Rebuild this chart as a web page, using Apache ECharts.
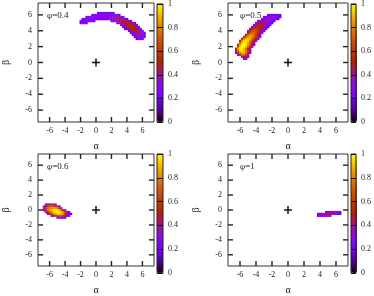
<!DOCTYPE html>
<html>
<head>
<meta charset="utf-8">
<script src="https://cdn.jsdelivr.net/npm/echarts@6/dist/echarts.min.js"></script>
<style>
  html, body { margin: 0; padding: 0; background: #fff; }
  #main { width: 374px; height: 296px; }
</style>
</head>
<body>
<div id="main"></div>
<script>
// tick labels on the alpha / beta axes
const axisTicks = [-6, -4, -2, 0, 2, 4, 6]
const axisMin = -7.5
const axisMax = 7.5
const phiLabels = ['φ=0.4', 'φ=0.5', 'φ=0.6', 'φ=1']
const origin = [[0, 0]]
// grid cell size (alpha and beta units)
const cell = 0.25

// phi = 0.4 : rows of beta, first alpha of each row, values along alpha
const p1Beta = [6.25, 6.0, 5.75, 5.5, 5.25, 5.0, 4.75, 4.5, 4.25, 4.0, 3.75, 3.5, 3.25, 3.0]
const p1Start = [0.25, -0.5, -1.25, -1.75, -2.0, -2.0, 3.25, 3.5, 3.75, 4.25, 4.5, 4.75, 5.0, 5.25]
const p1Vals = [
  [0.2, 0.22, 0.24, 0.25, 0.25, 0.25, 0.24, 0.22, 0.2],
  [0.2, 0.22, 0.25, 0.27, 0.28, 0.29, 0.3, 0.3, 0.3, 0.3, 0.3, 0.28, 0.26, 0.23, 0.2],
  [0.2, 0.23, 0.26, 0.28, 0.29, 0.3, 0.3, 0.31, 0.31, 0.32, 0.32, 0.33, 0.33, 0.34, 0.35, 0.37, 0.37, 0.35, 0.3, 0.22],
  [0.2, 0.23, 0.25, 0.26, 0.27, 0.27, 0.26, 0.24, 0.23, 0.22, 0.22, 0.22, 0.23, 0.25, 0.28, 0.31, 0.35, 0.39, 0.43, 0.45, 0.44, 0.38, 0.3, 0.22],
  [0.2, 0.22, 0.25, 0.26, 0.24, 0.23, 0.21, 0.2, 0, 0, 0, 0, 0, 0, 0, 0, 0.22, 0.27, 0.32, 0.38, 0.44, 0.48, 0.5, 0.47, 0.42, 0.33, 0.22],
  [0.2, 0.22, 0.22, 0.2, 0, 0, 0, 0, 0, 0, 0, 0, 0, 0, 0, 0, 0, 0, 0, 0.22, 0.3, 0.38, 0.45, 0.5, 0.52, 0.5, 0.45, 0.35, 0.22],
  [0.22, 0.32, 0.42, 0.5, 0.54, 0.55, 0.5, 0.38, 0.22],
  [0.2, 0.3, 0.42, 0.5, 0.55, 0.55, 0.5, 0.38, 0.22],
  [0.2, 0.28, 0.4, 0.5, 0.54, 0.53, 0.47, 0.35, 0.22],
  [0.22, 0.34, 0.45, 0.5, 0.5, 0.44, 0.32, 0.2],
  [0.2, 0.3, 0.4, 0.45, 0.44, 0.38, 0.28, 0.2],
  [0.2, 0.28, 0.35, 0.38, 0.36, 0.3, 0.21],
  [0.2, 0.26, 0.3, 0.31, 0.27, 0.2],
  [0.2, 0.24, 0.25, 0.21]
]

// phi = 0.5
const p2Beta = [6.0, 5.75, 5.5, 5.25, 5.0, 4.75, 4.5, 4.25, 4.0, 3.75, 3.5, 3.25, 3.0, 2.75, 2.5, 2.25, 2.0, 1.75, 1.5, 1.25, 1.0, 0.75, 0.5]
const p2Start = [-2.5, -3.0, -3.25, -3.75, -4.0, -4.25, -4.5, -4.75, -5.0, -5.0, -5.25, -5.5, -5.75, -6.0, -6.0, -6.25, -6.25, -6.5, -6.5, -6.5, -6.25, -5.75, -5.5]
const p2Vals = [
  [0.2, 0.22, 0.24, 0.25, 0.24, 0.22, 0.2],
  [0.2, 0.25, 0.29, 0.31, 0.31, 0.3, 0.28, 0.25, 0.2],
  [0.22, 0.3, 0.35, 0.36, 0.35, 0.32, 0.28, 0.24, 0.2],
  [0.22, 0.32, 0.38, 0.4, 0.39, 0.36, 0.31, 0.26, 0.2],
  [0.24, 0.36, 0.43, 0.45, 0.43, 0.39, 0.33, 0.27, 0.2],
  [0.26, 0.4, 0.48, 0.5, 0.48, 0.43, 0.36, 0.28, 0.2],
  [0.29, 0.44, 0.53, 0.55, 0.53, 0.47, 0.39, 0.3, 0.2],
  [0.32, 0.49, 0.58, 0.6, 0.58, 0.52, 0.43, 0.32, 0.21],
  [0.36, 0.55, 0.65, 0.67, 0.64, 0.57, 0.47, 0.35, 0.23],
  [0.45, 0.65, 0.74, 0.73, 0.67, 0.57, 0.44, 0.27],
  [0.5, 0.72, 0.82, 0.81, 0.74, 0.63, 0.48, 0.3],
  [0.47, 0.72, 0.85, 0.87, 0.83, 0.74, 0.6, 0.45, 0.28],
  [0.5, 0.77, 0.9, 0.92, 0.88, 0.78, 0.63, 0.47, 0.3],
  [0.52, 0.8, 0.94, 0.96, 0.92, 0.82, 0.66, 0.5, 0.32],
  [0.65, 0.9, 0.98, 0.96, 0.88, 0.74, 0.55, 0.35],
  [0.55, 0.85, 0.99, 1.0, 0.96, 0.86, 0.7, 0.52, 0.34],
  [0.65, 0.92, 1.0, 0.99, 0.92, 0.78, 0.58, 0.36],
  [0.52, 0.85, 0.98, 0.98, 0.9, 0.76, 0.56, 0.34],
  [0.45, 0.8, 0.94, 0.96, 0.9, 0.78, 0.6, 0.36],
  [0.3, 0.62, 0.85, 0.92, 0.9, 0.78, 0.6, 0.35],
  [0.3, 0.6, 0.78, 0.8, 0.65, 0.38],
  [0.3, 0.5, 0.5, 0.3],
  [0.2, 0.22]
]

// phi = 0.6
const p3Beta = [0.75, 0.5, 0.25, 0.0, -0.25, -0.5, -0.75, -1.0]
const p3Start = [-6.5, -6.75, -6.75, -6.75, -6.5, -6.25, -5.75, -5.0]
const p3Vals = [
  [0.25, 0.35, 0.4, 0.4, 0.35, 0.25],
  [0.3, 0.5, 0.62, 0.68, 0.7, 0.65, 0.55, 0.45, 0.3],
  [0.35, 0.6, 0.75, 0.8, 0.82, 0.85, 0.85, 0.78, 0.6, 0.35],
  [0.32, 0.6, 0.78, 0.85, 0.9, 0.95, 0.97, 0.95, 0.88, 0.72, 0.5, 0.3],
  [0.3, 0.55, 0.72, 0.85, 0.92, 0.97, 1.0, 0.98, 0.92, 0.8, 0.62, 0.42, 0.25],
  [0.3, 0.5, 0.68, 0.82, 0.9, 0.95, 0.96, 0.92, 0.82, 0.65, 0.45, 0.3, 0.2],
  [0.25, 0.45, 0.6, 0.68, 0.72, 0.7, 0.62, 0.5, 0.35, 0.22],
  [0.2, 0.24, 0.26, 0.24, 0.2]
]

// phi = 1
const p4Beta = [-0.25, -0.5, -0.75]
const p4Start = [4.75, 3.75, 3.75]
const p4Vals = [
  [0.2, 0.22, 0.25, 0.27, 0.28, 0.27, 0.24, 0.2],
  [0.2, 0.28, 0.36, 0.44, 0.5, 0.52, 0.5, 0.45, 0.38, 0.32, 0.25, 0.2],
  [0.2, 0.25, 0.3, 0.33, 0.33, 0.3, 0.24]
]

// gnuplot default palette (rgbformulae 7,5,15)
const palette = ['#000000', '#39004f', '#510096', '#6301ce', '#7202f3', '#8004ff', '#8c07f3', '#970bce',
  '#a11096', '#ab174f', '#b42000', '#bd2a00', '#c63700', '#ce4600', '#d55700', '#dd6c00', '#e48300',
  '#eb9d00', '#f2ba00', '#f9db00', '#ffff00']

const font = 'Liberation Serif'
const ink = '#222'
const frame = '#333'

function buildCells(betas, starts, vals) {
  const out = []
  betas.forEach((b, i) => {
    vals[i].forEach((v, j) => {
      if (v > 0) out.push([starts[i] + j * cell, b, v])
    })
  })
  return out
}

const panels = [
  { cells: buildCells(p1Beta, p1Start, p1Vals), left: 35, top: 3, width: 119, cb: 157 },
  { cells: buildCells(p2Beta, p2Start, p2Vals), left: 228, top: 3, width: 120, cb: 351 },
  { cells: buildCells(p3Beta, p3Start, p3Vals), left: 35, top: 154, width: 119, cb: 157 },
  { cells: buildCells(p4Beta, p4Start, p4Vals), left: 228, top: 154, width: 120, cb: 351 }
]
const plotH = 119

const grid = []
const xAxis = []
const yAxis = []
const series = []
const visualMap = []
const graphic = []

panels.forEach((p, i) => {
  // main plot with a frame
  grid.push({ left: p.left, top: p.top, width: p.width, height: plotH, show: true, borderColor: frame, borderWidth: 1 })
  xAxis.push({
    gridIndex: i, type: 'value', min: axisMin, max: axisMax, position: 'bottom',
    name: 'α', nameLocation: 'middle', nameGap: 19,
    nameTextStyle: { fontFamily: font, fontSize: 10, color: ink },
    axisLine: { show: false, onZero: false }, splitLine: { show: false }, axisTick: { show: false },
    axisLabel: { customValues: axisTicks, margin: 5, fontFamily: font, fontSize: 8, color: ink }
  })
  yAxis.push({
    gridIndex: i, type: 'value', min: axisMin, max: axisMax, position: 'left',
    name: 'β', nameLocation: 'middle', nameGap: 27,
    nameTextStyle: { fontFamily: font, fontSize: 10, color: ink },
    axisLine: { show: false, onZero: false }, splitLine: { show: false }, axisTick: { show: false },
    axisLabel: { customValues: axisTicks, margin: 6, fontFamily: font, fontSize: 8, color: ink }
  })

  series.push({
    type: 'custom', xAxisIndex: i, yAxisIndex: i, clip: true,
    data: p.cells,
    renderItem(params, api) {
      const a = api.value(0)
      const b = api.value(1)
      const h = cell / 2
      const p1 = api.coord([a - h, b + h])
      const p2 = api.coord([a + h, b - h])
      return {
        type: 'rect',
        shape: { x: p1[0], y: p1[1], width: p2[0] - p1[0] + 0.4, height: p2[1] - p1[1] + 0.4 },
        style: { fill: api.visual('color') }
      }
    }
  })

  visualMap.push({
    type: 'continuous', min: 0, max: 1, dimension: 2, seriesIndex: i,
    left: p.cb, top: p.top, itemWidth: 6, itemHeight: plotH, padding: 0,
    calculable: false, hoverLink: false, z: 1,
    inRange: { color: palette }
  })

  graphic.push({
    type: 'text', left: p.left + 12, top: p.top + 8,
    style: { text: phiLabels[i], font: '9px "Liberation Serif"', fill: ink }
  })
})

// colorbar frames and labels
panels.forEach((p, i) => {
  const g = grid.length
  grid.push({ left: p.cb, top: p.top, width: 6, height: plotH, show: true, borderColor: '#222', borderWidth: 1, z: 5 })
  xAxis.push({ gridIndex: g, type: 'value', min: 0, max: 1, show: false })
  yAxis.push({
    gridIndex: g, type: 'value', min: 0, max: 1, interval: 0.2, position: 'right', z: 5,
    axisLine: { show: false }, axisTick: { show: false },
    splitLine: { show: true, lineStyle: { color: '#111', width: 1 } },
    axisLabel: { margin: 5, fontFamily: font, fontSize: 8, color: ink }
  })
})

// tick marks on all four sides, pointing inwards (gnuplot mirror tics)
panels.forEach((p, i) => {
  series.push({
    type: 'custom', xAxisIndex: i, yAxisIndex: i, clip: false, z: 6, silent: true,
    data: axisTicks.map(t => [t, t]),
    renderItem(params, api) {
      const t = api.value(0)
      const b = api.coord([t, axisMin])
      const tp = api.coord([t, axisMax])
      const l = api.coord([axisMin, t])
      const r = api.coord([axisMax, t])
      const s = { stroke: '#222', lineWidth: 1.4 }
      const n = 5
      return {
        type: 'group',
        children: [
          { type: 'line', shape: { x1: b[0], y1: b[1], x2: b[0], y2: b[1] - n }, style: s },
          { type: 'line', shape: { x1: tp[0], y1: tp[1], x2: tp[0], y2: tp[1] + n }, style: s },
          { type: 'line', shape: { x1: l[0], y1: l[1], x2: l[0] + n, y2: l[1] }, style: s },
          { type: 'line', shape: { x1: r[0], y1: r[1], x2: r[0] - n, y2: r[1] }, style: s }
        ]
      }
    }
  })
})

// plus sign at the origin of each panel
panels.forEach((p, i) => {
  series.push({
    type: 'custom', xAxisIndex: i, yAxisIndex: i, data: origin, z: 5,
    renderItem(params, api) {
      const c = api.coord([api.value(0), api.value(1)])
      const s = { stroke: '#111', lineWidth: 1.5 }
      return {
        type: 'group',
        children: [
          { type: 'line', shape: { x1: c[0] - 4, y1: c[1], x2: c[0] + 4, y2: c[1] }, style: s },
          { type: 'line', shape: { x1: c[0], y1: c[1] - 4, x2: c[0], y2: c[1] + 4 }, style: s }
        ]
      }
    }
  })
})

const myChart = echarts.init(document.getElementById('main'))
myChart.setOption({
  backgroundColor: '#fff',
  animation: false,
  grid, xAxis, yAxis, series, visualMap, graphic
})
</script>
</body>
</html>
